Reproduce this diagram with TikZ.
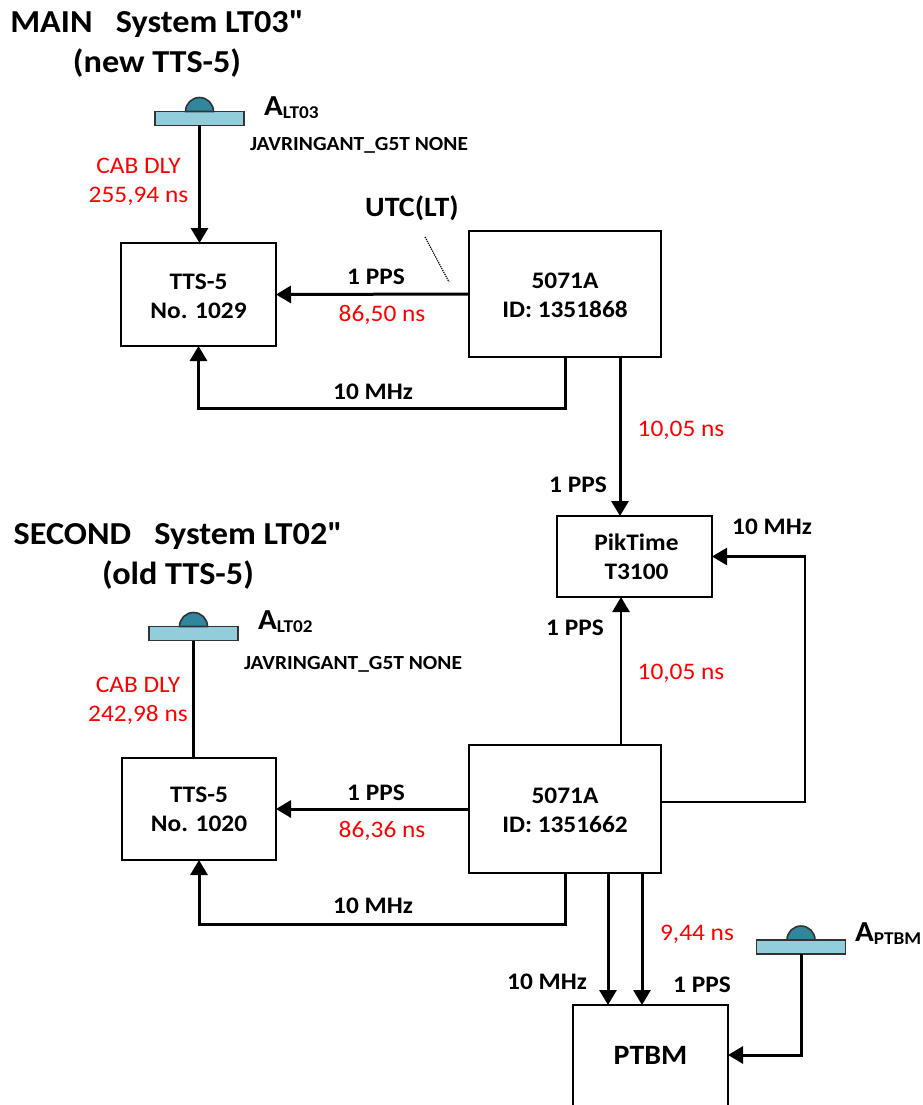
\documentclass[tikz,border=0pt]{standalone}
\usepackage{fontspec}
\setmainfont[FakeStretch=1.07]{Carlito}
\newfontfamily\plainquote[FakeStretch=1.07]{Carlito}
\usetikzlibrary{arrows.meta}
\definecolor{barcol}{HTML}{92CDDC}
\definecolor{domecol}{HTML}{31859C}
\tikzset{
  x=1pt,y=-1pt,
  box/.style={draw=black,line width=2.4pt,fill=white,inner sep=0pt,outer sep=0pt,align=center,
    font=\fontsize{23.7}{29}\selectfont\bfseries},
  wire/.style={line width=3pt,draw=black},
  arrowed/.style={wire,-{Triangle[length=15pt,width=17pt]}},
  thin wire/.style={arrowed,line width=2.5pt},
  lbl/.style={inner sep=0pt,outer sep=0pt,font=\fontsize{23.7}{26}\selectfont\bfseries},
  title/.style={inner sep=0pt,outer sep=0pt,align=center,font=\fontsize{32}{39.5}\selectfont\bfseries},
  red lbl/.style={inner sep=0pt,outer sep=0pt,text=red,align=center,font=\fontsize{23.7}{29}\selectfont},
  small lbl/.style={inner sep=0pt,outer sep=0pt,anchor=west,font=\fontsize{20}{22}\selectfont\bfseries},
  ant lbl/.style={inner sep=0pt,outer sep=0pt,anchor=west,font=\fontsize{29}{30}\selectfont\bfseries},
  bar/.style={draw=black!80,line width=1.6pt,fill=barcol,inner sep=0pt,outer sep=0pt,minimum width=89pt,minimum height=14pt},
  dome/.style={draw=black!80,line width=1.6pt,fill=domecol},
}
\newcommand{\antname}[1]{\raisebox{-3pt}{\fontsize{18}{18}\selectfont #1}}
\newcommand{\dn}[1]{\raisebox{-1.5pt}[\height][\depth]{#1}}
\begin{document}
\begin{tikzpicture}
\useasboundingbox (0,0) rectangle (922,1105);
% boxes
\node[box,minimum width=155pt,minimum height=103pt] (tts1) at (198.5,294.5) {\dn{TTS-5}\\\dn{No. 1029}};
\node[box,minimum width=192pt,minimum height=126pt] (clk1) at (565,294) {\dn{5071A}\\\dn{ID: 1351868}};
\node[box,minimum width=155pt,minimum height=81pt] (pik) at (634.5,556.5) {\hspace*{4pt}PikTime\\\hspace*{4pt}T3100};
\node[box,minimum width=154pt,minimum height=102pt] (tts2) at (199,809) {TTS-5\\No. 1020};
\node[box,minimum width=192pt,minimum height=128pt] (clk2) at (565,809) {\dn{5071A}\\\dn{ID: 1351662}};
\node[inner sep=0pt,outer sep=0pt,minimum width=155pt,minimum height=100pt,font=\fontsize{28}{30}\selectfont\bfseries] (ptbm) at (650.5,1055) {PTBM};
\draw[line width=2.4pt] (ptbm.south west) -- (ptbm.north west) -- (ptbm.north east) -- (ptbm.south east);
% antennas
\node[bar] (ant1) at (199.5,118.5) {};
\draw[dome] (ant1.north) ++(-14,0) arc[start angle=180,end angle=360,radius=14] -- cycle;
\node[bar] (ant2) at (193.5,633.5) {};
\draw[dome] (ant2.north) ++(-14,0) arc[start angle=180,end angle=360,radius=14] -- cycle;
\node[bar] (ant3) at (801,947) {};
\draw[dome] (ant3.north) ++(-14,0) arc[start angle=180,end angle=360,radius=14] -- cycle;
% connectors
\draw[arrowed] (ant1.south) -- (ant1.south |- tts1.north);
\draw[wire] (ant2.south) -- (ant2.south |- tts2.north);
\draw[arrowed] (clk1.west) -- (tts1.east);
\draw[arrowed] (clk1.south) -- ++(0,51) -| (tts1.south);
\draw[arrowed] ([xshift=55pt]clk1.south) -- ([xshift=55pt]clk1.south |- pik.north);
\draw[thin wire] ([xshift=56pt]clk2.north) -- ([xshift=56pt]clk2.north |- pik.south);
\draw[thin wire] ([yshift=7pt]clk2.east) -- ++(144,0) |- (pik.east);
\draw[arrowed] (clk2.west) -- (tts2.east);
\draw[arrowed] (clk2.south) -- ++(0,51) -| (tts2.south);
\draw[arrowed] ([xshift=43pt]clk2.south) -- ([xshift=43pt]clk2.south |- ptbm.north);
\draw[arrowed] ([xshift=77pt]clk2.south) -- ([xshift=77pt]clk2.south |- ptbm.north);
\draw[arrowed] (ant3.south) |- (ptbm.east);
\coordinate (utca) at (425,237);
\coordinate (utcb) at (449,282);
\draw[line width=1.2pt,densely dotted] (utca) -- (utcb);
% titles
\node[title] (t1) at (157,44) {MAIN\ \ \ System LT03{\plainquote"}\\(new TTS-5)};
\node[title] (t2) at (178,556) {SECOND\ \ \ System LT02{\plainquote"}\\(old TTS-5)};
% antenna labels
\node[ant lbl] (a1) at (264,108) {A\antname{LT03}};
\node[ant lbl] (a2) at (258,622) {A\antname{LT02}};
\node[ant lbl] (a3) at (855,934) {A\antname{PTBM}};
\node[small lbl] (j1) at (250,145.5) {JAVRINGANT\_G5T NONE};
\node[small lbl] (j2) at (244,664.5) {JAVRINGANT\_G5T NONE};
% red labels
\node[red lbl] (r1) at (138.5,181.5) {CAB DLY\\255,94 ns};
\node[red lbl] (r2) at (138,700.5) {CAB DLY\\242,98 ns};
\node[red lbl] (r3) at (382,314.5) {86,50 ns};
\node[red lbl] (r4) at (382,830.5) {86,36 ns};
\node[red lbl] (r5) at (681,430.5) {10,05 ns};
\node[red lbl] (r6) at (681,673.5) {10,05 ns};
\node[red lbl] (r7) at (697,934.5) {9,44 ns};
% black labels
\node[lbl,font=\fontsize{28}{30}\selectfont\bfseries] (utc) at (412,208) {UTC(LT)};
\node[lbl] (l1) at (376,277) {1 PPS};
\node[lbl] (l2) at (373,392) {10 MHz};
\node[lbl] (l3) at (578,485) {1 PPS};
\node[lbl] (l4) at (772,527) {10 MHz};
\node[lbl] (l5) at (575,628) {1 PPS};
\node[lbl] (l6) at (376,793) {1 PPS};
\node[lbl] (l7) at (373,906) {10 MHz};
\node[lbl] (l8) at (547,982) {10 MHz};
\node[lbl] (l9) at (702,985) {1 PPS};
\end{tikzpicture}
\end{document}
